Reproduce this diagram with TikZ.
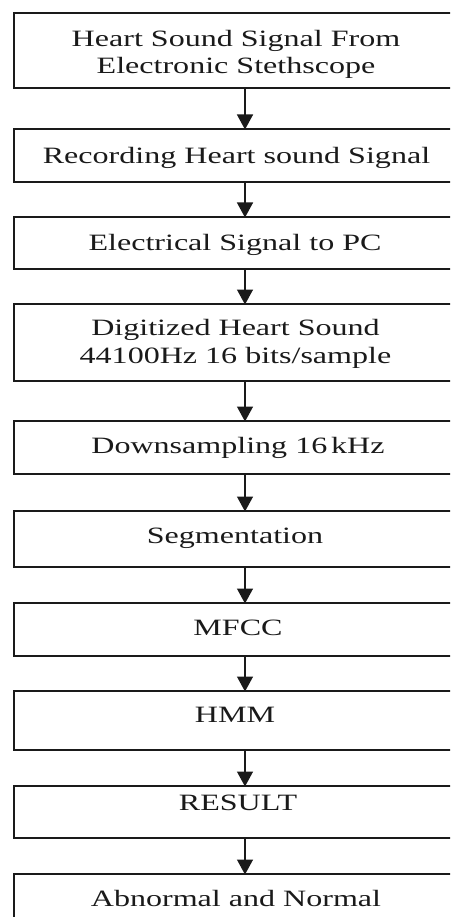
\documentclass[tikz,border=0pt]{standalone}
\usepackage{fontspec}
\setmainfont{Liberation Serif}[FakeStretch=1.37]
\usetikzlibrary{arrows.meta}
\definecolor{ink}{HTML}{1A1A1A}
\tikzset{
  box/.style={draw=ink, line width=1.6pt, rectangle, inner sep=0pt, outer sep=0pt, minimum width=446pt},
  txt/.style={text=ink, font=\fontsize{23.4}{27.5}\selectfont, inner sep=0pt, anchor=base, align=center},
  arr/.style={draw=ink, line width=1.4pt, -{Triangle[width=16pt,length=15pt]}, shorten >=-0.5pt}
}
\begin{document}
\begin{tikzpicture}[x=1pt,y=-1pt]
\useasboundingbox (0,0) rectangle (450,917);
\clip (0,0) rectangle (450,917);
\fill[white] (0,0) rectangle (450,917);
% boxes
\node[box, minimum height=75pt] (b1) at (237,50.5) {};
\node[box, minimum height=53pt] (b2) at (237,155.5) {};
\node[box, minimum height=52pt] (b3) at (237,243) {};
\node[box, minimum height=77pt] (b4) at (237,342.5) {};
\node[box, minimum height=53pt] (b5) at (237,447.5) {};
\node[box, minimum height=56pt] (b6) at (237,539) {};
\node[box, minimum height=53pt] (b7) at (237,629.5) {};
\node[box, minimum height=59pt] (b8) at (237,720.5) {};
\node[box, minimum height=52pt] (b9) at (237,812) {};
\node[box, minimum height=66pt] (b10) at (237,907) {};
% texts (base anchor = baseline of last line)
\node[txt] (t1) at (236,74) {Heart Sound Signal From\\Electronic Stethscope};
\node[txt] (t2) at (236.5,164) {Recording Heart sound Signal};
\node[txt] (t3) at (235,250) {Electrical Signal to PC};
\node[txt] (t4) at (235.5,363) {Digitized Heart Sound\\44100Hz 16 bits/sample};
\node[txt] (t5) at (238,453) {Downsampling 16\,kHz};
\node[txt] (t6) at (235,543) {Segmentation};
\node[txt] (t7) at (238,635) {MFCC};
\node[txt] (t8) at (235,722) {HMM};
\node[txt] (t9) at (238,810) {RESULT};
\node[txt] (t10) at (236,906) {Abnormal and Normal};
% arrows
\foreach \a/\b in {b1/b2,b2/b3,b3/b4,b4/b5,b5/b6,b6/b7,b7/b8,b8/b9,b9/b10}
  \draw[arr] ([xshift=8pt]\a.south) -- ([xshift=8pt]\b.north);
\end{tikzpicture}
\end{document}
